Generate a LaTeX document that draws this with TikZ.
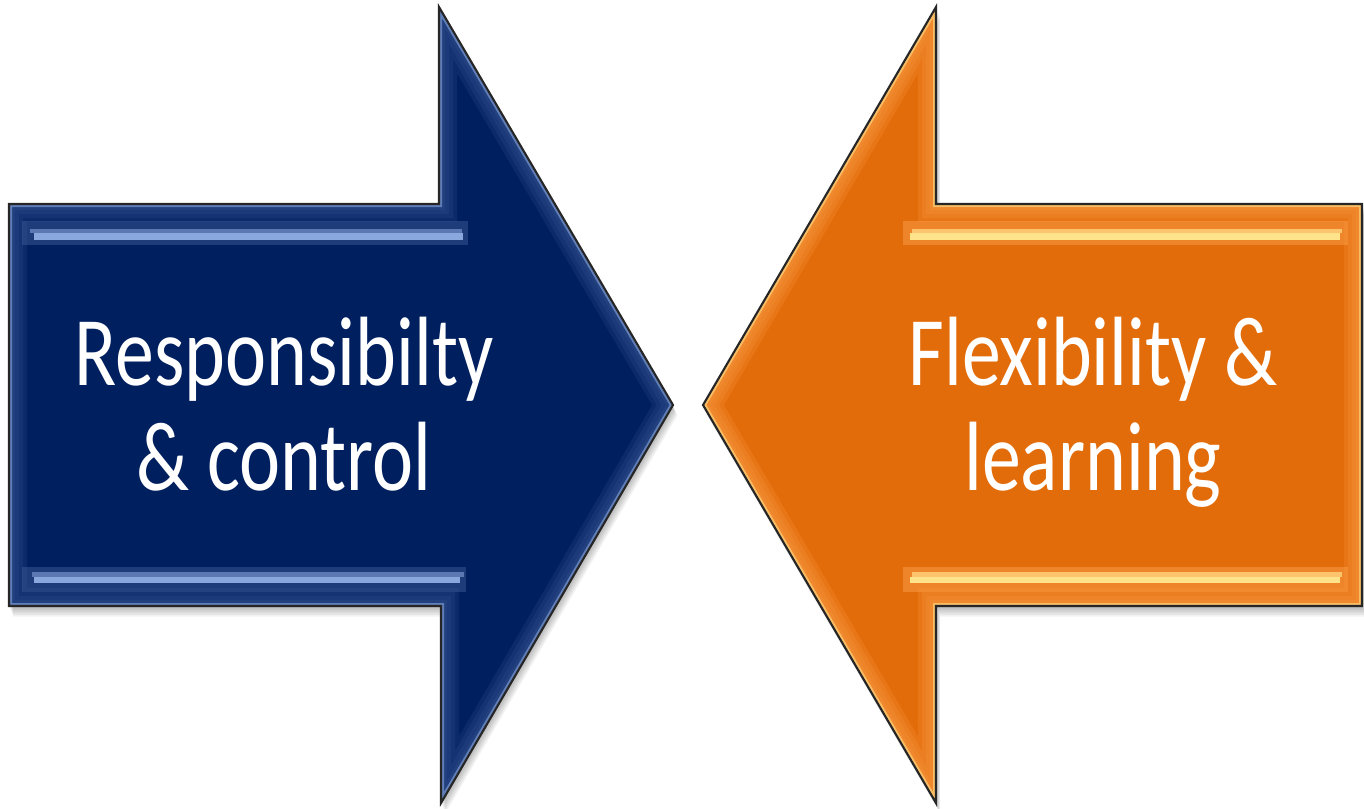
\documentclass[tikz,border=0pt]{standalone}
\usepackage{fontspec}
\newfontfamily\arrowfont[FakeStretch=0.79]{Carlito}

\definecolor{navy}{RGB}{0,31,95}
\definecolor{navyedge}{RGB}{60,88,150}
\definecolor{navyglow}{RGB}{138,168,222}
\definecolor{pumpkin}{RGB}{227,108,10}
\definecolor{pumpkinedge}{RGB}{247,150,64}
\definecolor{pumpkinglow}{RGB}{255,227,138}

\tikzset{
  bluearrow/.style={insert path={(9,204) -- (439,204) -- (439,7) -- (673,405)
    -- (441,803) -- (441,606) -- (9,606) -- cycle}},
  orangearrow/.style={insert path={(703,405) -- (936,7) -- (936,204) -- (1362,204)
    -- (1362,606) -- (936,606) -- (936,803) -- cycle}},
  outline/.style={draw=black!85, line width=0.6pt, line join=miter},
  arrowtext/.style={text=white, inner sep=0pt, anchor=base,
    font=\arrowfont\fontsize{28}{30}\selectfont},
}

\begin{document}
\begin{tikzpicture}[x=0.01cm,y=-0.01cm]
\useasboundingbox (0,0) rectangle (1364,808);
% soft drop shadows
\foreach \s in {1,...,6} {
  \fill [black, opacity=0.05, xshift=0.2*\s pt, yshift=-0.5*\s pt, bluearrow];
  \fill [black, opacity=0.05, xshift=0.2*\s pt, yshift=-0.5*\s pt, orangearrow];
}
% blue arrow
\fill [navy, bluearrow];
\begin{scope}
\clip [bluearrow];
\foreach \w in {0.36,0.28,0.20,0.12} {
  \draw [navyedge, line width=\w cm, opacity=0.2, bluearrow];
}
\draw [navyglow, line width=0.06cm, opacity=0.6, bluearrow];
\end{scope}
\fill [navyedge, opacity=0.5] (22,221) rectangle (468,245);
\fill [navyedge!60!navyglow] (30,229) rectangle (462,233);
\fill [navyglow] (34,233) rectangle (463,240);
\fill [navyedge, opacity=0.5] (22,567) rectangle (466,592);
\fill [navyedge!60!navyglow] (32,572) rectangle (464,577);
\fill [navyglow] (34,577) rectangle (460,583);
\draw [outline, bluearrow];
% orange arrow
\fill [pumpkin, orangearrow];
\begin{scope}
\clip [orangearrow];
\foreach \w in {0.36,0.28,0.20,0.12} {
  \draw [pumpkinedge, line width=\w cm, opacity=0.25, orangearrow];
}
\draw [pumpkinglow, line width=0.06cm, opacity=0.6, orangearrow];
\end{scope}
\fill [pumpkinedge, opacity=0.6] (903,221) rectangle (1348,245);
\fill [pumpkinedge!40!pumpkinglow] (912,229) rectangle (1342,233);
\fill [pumpkinglow] (910,233) rectangle (1340,240);
\fill [pumpkinedge, opacity=0.6] (903,567) rectangle (1348,592);
\fill [pumpkinedge!40!pumpkinglow] (912,572) rectangle (1342,577);
\fill [pumpkinglow] (910,577) rectangle (1340,583);
\draw [outline, orangearrow];
% labels
\node (resp) [arrowtext] at (284,385) {Responsibilty};
\node (ctrl) [arrowtext] at (284,490) {\& control};
\node (flex) [arrowtext] at (1093,385) {Flexibility \&};
\node (learn) [arrowtext] at (1093,490) {learning};
\end{tikzpicture}
\end{document}
